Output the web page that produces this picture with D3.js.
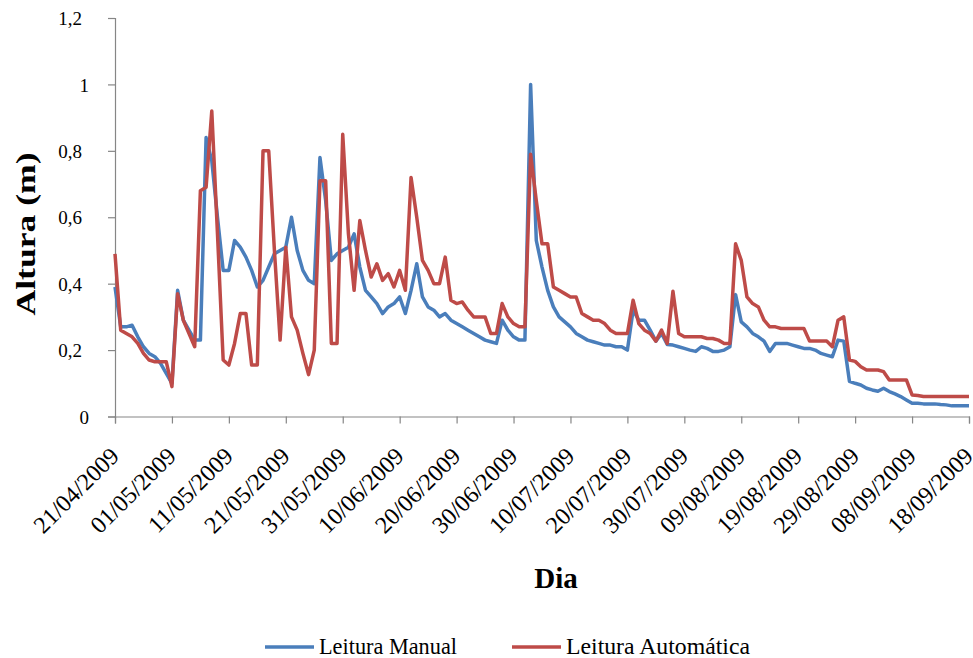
<!DOCTYPE html>
<html>
<head>
<meta charset="utf-8">
<script src="https://cdn.jsdelivr.net/npm/d3@7"></script>
<style>
  html, body { margin: 0; padding: 0; background: #fff; }
  svg { display: block; }
  svg text { font-family: "Liberation Serif", "DejaVu Serif", Times, serif; fill: #000; }
</style>
</head>
<body>
<div id="chart"></div>
<script>
// Daily water height readings, 21/04/2009 to 18/09/2009 (metres)
const startDate = "21/04/2009";
const endDate = "18/09/2009";

const leituraManual = [
  0.39, 0.27, 0.27, 0.275, 0.24, 0.21, 0.19, 0.18, 0.16, 0.13,
  0.10, 0.38, 0.29, 0.26, 0.23, 0.23, 0.84, 0.77, 0.60, 0.44,
  0.44, 0.53, 0.51, 0.48, 0.44, 0.39, 0.41, 0.45, 0.49, 0.50,
  0.51, 0.60, 0.50, 0.44, 0.41, 0.40, 0.78, 0.65, 0.47, 0.49,
  0.50, 0.51, 0.55, 0.45, 0.38, 0.36, 0.34, 0.31, 0.33, 0.34,
  0.36, 0.31, 0.38, 0.46, 0.36, 0.33, 0.32, 0.30, 0.31, 0.29,
  0.28, 0.27, 0.26, 0.25, 0.24, 0.23, 0.225, 0.22, 0.29, 0.26,
  0.24, 0.23, 0.23, 1.00, 0.53, 0.45, 0.38, 0.33, 0.30, 0.285,
  0.27, 0.25, 0.24, 0.23, 0.225, 0.22, 0.215, 0.215, 0.21, 0.21,
  0.20, 0.32, 0.29, 0.29, 0.26, 0.227, 0.25, 0.217, 0.215, 0.21,
  0.205, 0.20, 0.196, 0.21, 0.205, 0.196, 0.196, 0.20, 0.21, 0.367,
  0.285, 0.27, 0.25, 0.24, 0.227, 0.196, 0.22, 0.22, 0.22, 0.215,
  0.21, 0.205, 0.205, 0.20, 0.19, 0.185, 0.18, 0.23, 0.227, 0.106,
  0.10, 0.095, 0.085, 0.08, 0.076, 0.085, 0.075, 0.068, 0.06, 0.05,
  0.04, 0.04, 0.038, 0.038, 0.038, 0.036, 0.035, 0.032, 0.032, 0.032,
  0.032
];

const leituraAutomatica = [
  0.49, 0.26, 0.25, 0.24, 0.22, 0.19, 0.17, 0.165, 0.165, 0.165,
  0.09, 0.37, 0.29, 0.25, 0.21, 0.68, 0.69, 0.92, 0.55, 0.17,
  0.155, 0.22, 0.31, 0.31, 0.155, 0.155, 0.80, 0.80, 0.50, 0.23,
  0.51, 0.30, 0.26, 0.19, 0.126, 0.20, 0.71, 0.71, 0.22, 0.22,
  0.85, 0.55, 0.38, 0.59, 0.50, 0.42, 0.46, 0.41, 0.43, 0.39,
  0.44, 0.38, 0.72, 0.60, 0.47, 0.44, 0.40, 0.40, 0.48, 0.35,
  0.34, 0.345, 0.32, 0.30, 0.30, 0.30, 0.25, 0.25, 0.34, 0.30,
  0.28, 0.27, 0.27, 0.79, 0.65, 0.52, 0.52, 0.39, 0.38, 0.37,
  0.36, 0.36, 0.31, 0.30, 0.29, 0.29, 0.28, 0.26, 0.25, 0.25,
  0.25, 0.35, 0.28, 0.26, 0.25, 0.227, 0.26, 0.22, 0.377, 0.25,
  0.24, 0.24, 0.24, 0.24, 0.235, 0.235, 0.23, 0.22, 0.22, 0.52,
  0.47, 0.36, 0.34, 0.33, 0.29, 0.27, 0.27, 0.265, 0.265, 0.265,
  0.265, 0.265, 0.227, 0.227, 0.227, 0.227, 0.21, 0.29, 0.30, 0.17,
  0.166, 0.15, 0.14, 0.14, 0.14, 0.135, 0.11, 0.11, 0.11, 0.11,
  0.065, 0.063, 0.06, 0.06, 0.06, 0.06, 0.06, 0.06, 0.06, 0.06,
  0.06
];

const xTickLabels = [
  "21/04/2009", "01/05/2009", "11/05/2009", "21/05/2009", "31/05/2009",
  "10/06/2009", "20/06/2009", "30/06/2009", "10/07/2009", "20/07/2009",
  "30/07/2009", "09/08/2009", "19/08/2009", "29/08/2009", "08/09/2009",
  "18/09/2009"
];
const yTicks = [0, 0.2, 0.4, 0.6, 0.8, 1, 1.2];

const seriesNames = ["Leitura Manual", "Leitura Automática"];
const seriesColors = ["#4a7ebb", "#be4b48"];

const W = 973, H = 658;
const margin = { left: 115, right: 4, top: 18, bottom: 241 };
const serif = "'Liberation Serif', 'DejaVu Serif', Times, serif";

const parse = d3.timeParse("%d/%m/%Y");
const fmt = d3.timeFormat("%d/%m/%Y");
const t0 = parse(startDate), t1 = parse(endDate);
const days = d3.timeDay.range(t0, d3.timeDay.offset(t1, 1));

const svg = d3.select("#chart").append("svg")
  .attr("width", W).attr("height", H)
  .style("font-family", serif);

const x = d3.scaleTime().domain([t0, t1]).range([margin.left, 969]);
const y = d3.scaleLinear().domain([0, 1.2]).range([H - margin.bottom - 0.5, margin.top]);

const axisColor = "#868686";
const yFmt = d => d3.format("~g")(d).replace(".", ",");

// Y axis
const yAxis = svg.append("g")
  .attr("transform", `translate(${margin.left},0)`)
  .call(d3.axisLeft(y).tickValues(yTicks).tickSize(7).tickFormat(yFmt));
yAxis.attr("font-family", null);
yAxis.select(".domain").attr("stroke", axisColor).attr("stroke-width", 1.2);
yAxis.selectAll(".tick line").attr("stroke", axisColor).attr("stroke-width", 1.2);
yAxis.selectAll(".tick text")
  .style("font-family", serif)
  .attr("font-size", 19).attr("fill", "#000").attr("dy", "0.35em")
  .attr("x", d => Number.isInteger(d) ? -26 : -33);

// X axis
const xTickDates = xTickLabels.map(parse);
const xAxis = svg.append("g")
  .attr("transform", `translate(0,${y(0)})`)
  .call(d3.axisBottom(x).tickValues(xTickDates).tickSize(7).tickFormat(fmt));
xAxis.attr("font-family", null);
xAxis.select(".domain").attr("stroke", axisColor).attr("stroke-width", 1.2);
xAxis.selectAll(".tick line").attr("stroke", axisColor).attr("stroke-width", 1.2);
xAxis.selectAll(".tick text")
  .style("font-family", serif)
  .attr("font-size", 24).attr("fill", "#000")
  .attr("text-anchor", "end")
  .attr("dy", "0")
  .attr("y", 0)
  .attr("transform", "translate(5,41) rotate(-45)");

// Series lines
const line = d3.line()
  .x((d, i) => x(days[i]))
  .y(d => y(d));

[leituraManual, leituraAutomatica].forEach((vals, k) => {
  svg.append("path")
    .datum(vals)
    .attr("fill", "none")
    .attr("stroke", seriesColors[k])
    .attr("stroke-width", 3.5)
    .attr("stroke-linejoin", "round")
    .attr("d", line);
});

// Axis titles
svg.append("text")
  .attr("transform", "translate(35,234) rotate(-90)")
  .attr("text-anchor", "middle")
  .attr("font-weight", "bold")
  .attr("font-size", 27)
  .attr("textLength", 163)
  .attr("lengthAdjust", "spacingAndGlyphs")
  .style("font-family", serif)
  .text("Altura (m)");

svg.append("text")
  .attr("x", 556).attr("y", 588)
  .attr("text-anchor", "middle")
  .attr("font-weight", "bold")
  .attr("font-size", 29)
  .style("font-family", serif)
  .text("Dia");

// Legend
const legendItems = [
  { name: seriesNames[0], color: seriesColors[0], x: 265, len: 138 },
  { name: seriesNames[1], color: seriesColors[1], x: 512, len: 184 }
];
const lg = svg.append("g");
legendItems.forEach(it => {
  lg.append("line")
    .attr("x1", it.x).attr("x2", it.x + 49)
    .attr("y1", 647).attr("y2", 647)
    .attr("stroke", it.color).attr("stroke-width", 3.5);
  lg.append("text")
    .attr("x", it.x + 54).attr("y", 654)
    .attr("font-size", 22.5)
    .attr("textLength", it.len)
    .attr("lengthAdjust", "spacingAndGlyphs")
    .style("font-family", serif)
    .text(it.name);
});
</script>
</body>
</html>
